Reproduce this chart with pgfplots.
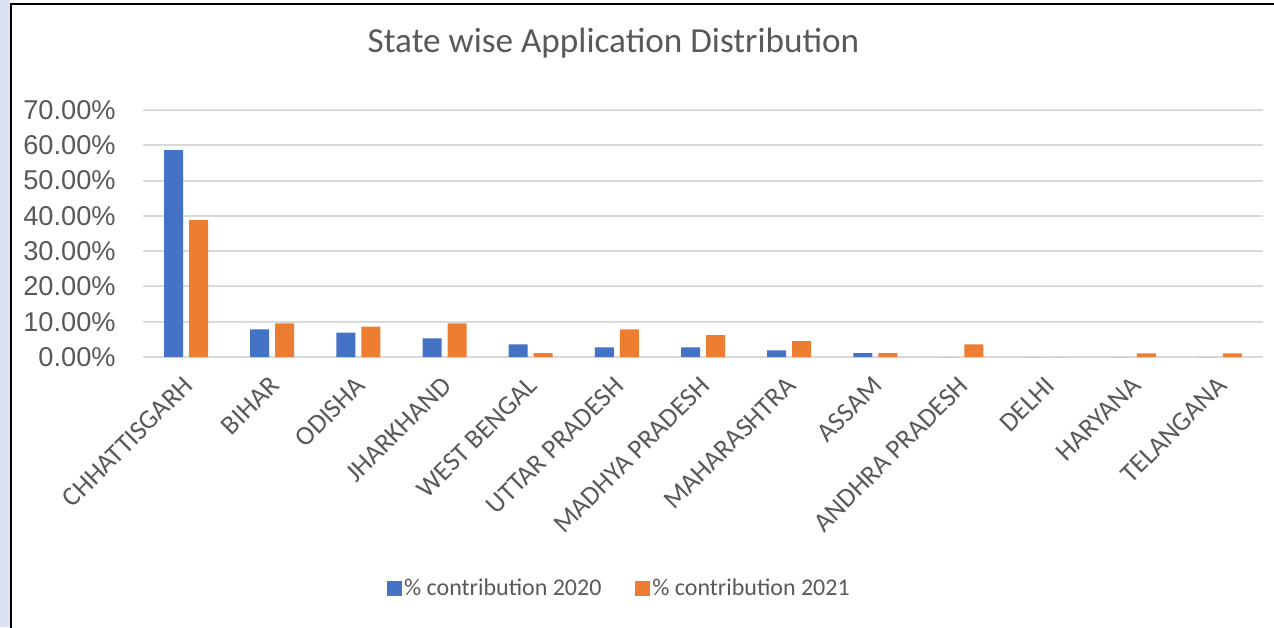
\documentclass[border=0pt]{standalone}
\usepackage{fontspec}
\setmainfont{Carlito}
\newfontfamily\tickfont{Liberation Sans}
\usepackage{pgfplots}
\pgfplotsset{compat=1.18}
\usepackage{pgfplotstable}
\definecolor{bblue}{HTML}{4472C4}
\definecolor{borange}{HTML}{ED7D31}
\definecolor{txt}{HTML}{595959}
\definecolor{gridc}{HTML}{D9D9D9}
\definecolor{lav}{HTML}{DCE2F3}

\pgfplotstableread{
x v2020 v2021
0 58.6 38.8
1 7.8 9.5
2 6.9 8.6
3 5.3 9.5
4 3.6 1.1
5 2.7 7.8
6 2.7 6.2
7 1.9 4.5
8 1.1 1.1
9 0.0 3.6
10 0.0 0.0
11 0.0 1.0
12 0.0 1.0
}\data

\begin{document}
\begin{tikzpicture}[x=1pt,y=1pt]
\useasboundingbox (0,0) rectangle (637,313.5);
\fill[white] (0,0) rectangle (637,313.5);
\fill[lav] (0,0) rectangle (5,313.5);
\draw[black, line width=0.9pt] (5.5,-1) -- (5.5,311.5) -- (638,311.5);
\node[anchor=base, text=txt, inner sep=0pt] at (306.75,287) {\fontsize{17.6}{20}\selectfont State wise Application Distribution};
\begin{axis}[
  at={(71.5pt,135pt)}, anchor=south west,
  scale only axis, width=560pt, height=123.5pt,
  xmin=-0.5, xmax=12.5, ymin=0, ymax=70,
  axis line style={draw=none},
  tick style={draw=none},
  ymajorgrids, grid style={gridc, line width=1pt},
  xtick={0,1,2,3,4,5,6,7,8,9,10,11,12},
  xticklabels={CHHATTISGARH, BIHAR, ODISHA, JHARKHAND, WEST BENGAL, UTTAR PRADESH, MADHYA PRADESH, MAHARASHTRA, ASSAM, ANDHRA PRADESH, DELHI, HARYANA, TELANGANA},
  ytick={0,10,20,30,40,50,60,70},
  yticklabels={0.00\%,10.00\%,20.00\%,30.00\%,40.00\%,50.00\%,60.00\%,70.00\%},
  xticklabel style={xshift=1.2pt, yshift=-7.8pt, rotate=45, anchor=east, inner sep=0pt, text=txt, font=\fontsize{13.5}{15}\selectfont},
  yticklabel style={anchor=east, inner sep=0pt, xshift=-13.5pt, text=txt, font=\tickfont\fontsize{13.6}{15}\selectfont},
  ybar, bar width=9.5pt,
  legend style={at={(0.4254,-0.939)}, anchor=center, draw=none, fill=none,
    legend columns=2, font=\fontsize{12}{14}\selectfont, text=txt,
    /tikz/every even column/.append style={column sep=15.5pt},
    nodes={inner sep=1.2pt}},
  legend image code/.code={\fill[#1] (0pt,-3.75pt) rectangle (7.5pt,3.75pt);},
]
\addplot[fill=bblue, draw=none, bar shift=-6.25pt] table[x=x,y=v2020]{\data};
\addplot[fill=borange, draw=none, bar shift=6.25pt] table[x=x,y=v2021]{\data};
\legend{\% contribution 2020, \% contribution 2021}
\end{axis}
\end{tikzpicture}
\end{document}
